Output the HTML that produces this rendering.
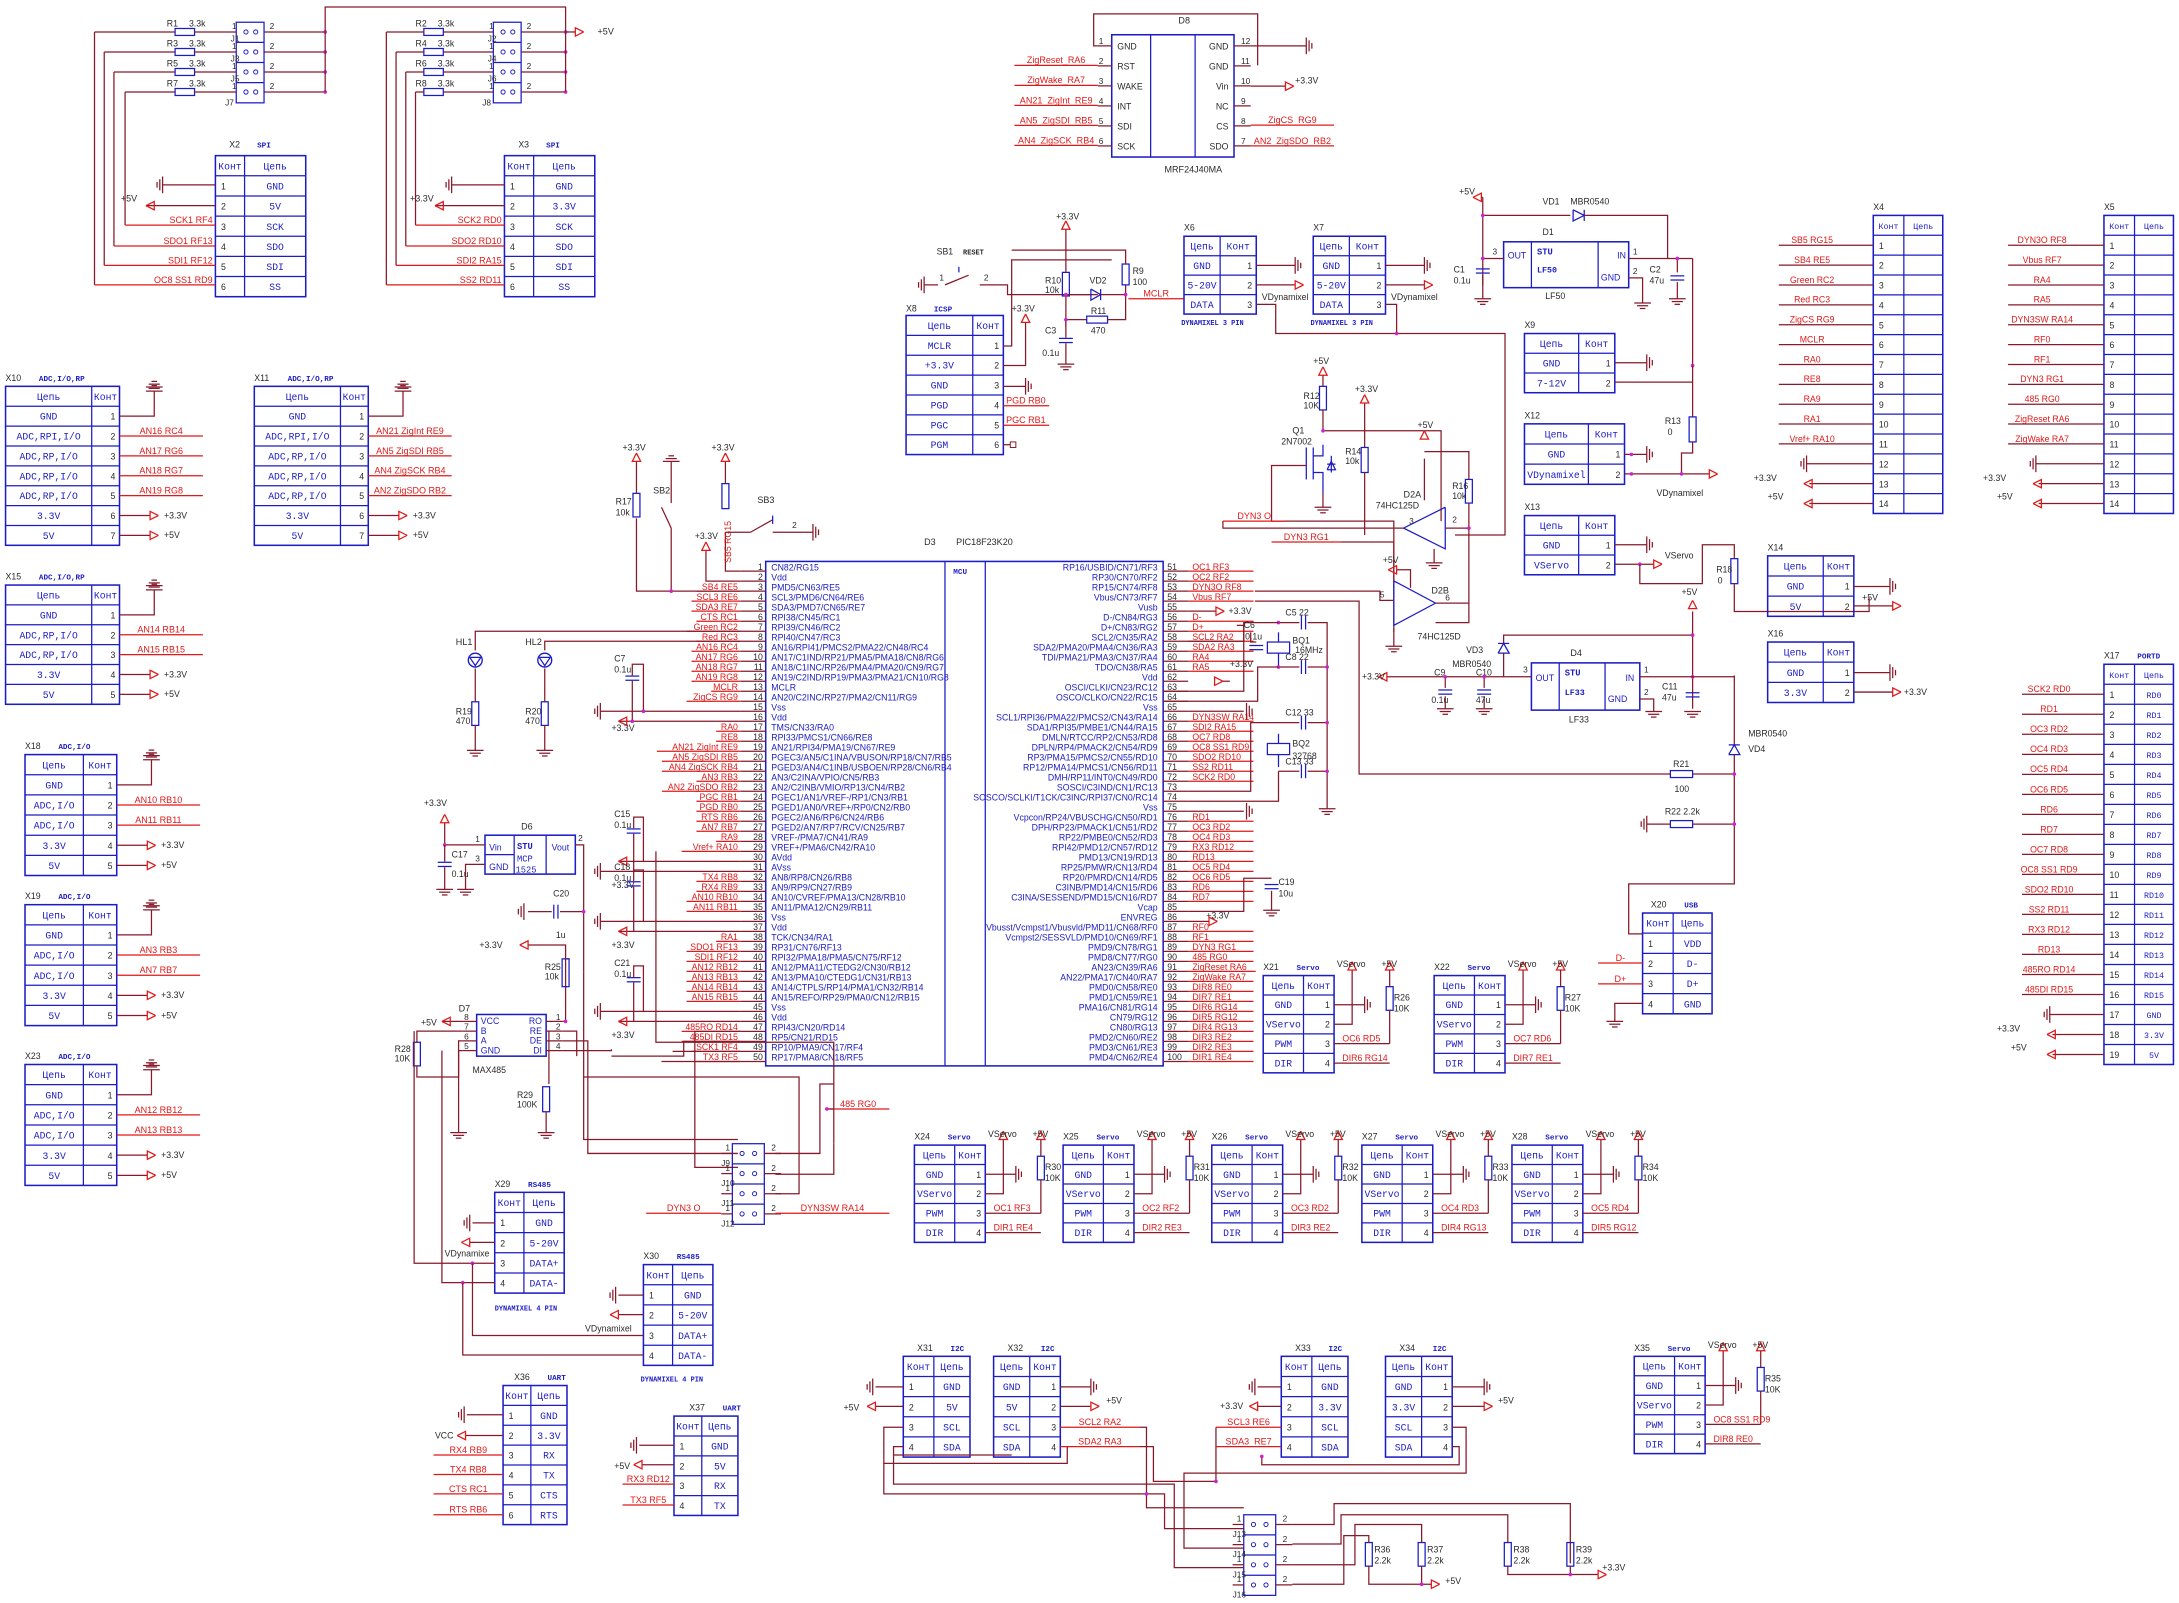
<!DOCTYPE html>
<html><head><meta charset="utf-8">
<style>html,body{margin:0;padding:0;background:#fff;}svg{display:block;}</style>
</head><body>
<div id="w"></div>
<script>
const B='#1c1cc4',W='#861a2a',R='#e01818',K='#2a2a2a',P='#d020d0';
let s='';
function t(x,y,str,c,fs,a,ff,fw,tr){s+='<text x="'+x+'" y="'+y+'" fill="'+(c||K)+'" font-size="'+(fs||6.5)+'" text-anchor="'+(a||'start')+'" font-family="'+(ff||'Liberation Sans, sans-serif')+'"'+(fw?' font-weight="bold"':'')+(tr?' transform="'+tr+'"':'')+'>'+str+'</text>';}
function l(c,...p){s+='<polyline points="'+p.join(' ')+'" fill="none" stroke="'+c+'" stroke-width="0.9"/>';}
function w(...p){l(W,...p);}
function rc(x,y,ww,h,c,sw){s+='<rect x="'+x+'" y="'+y+'" width="'+ww+'" height="'+h+'" fill="none" stroke="'+(c||B)+'" stroke-width="'+(sw||1.1)+'"/>';}
function dot(x,y){s+='<circle cx="'+x+'" cy="'+y+'" r="1.3" fill="'+P+'"/>';}
function gh(x,y,d){d=d||1;l(W,x,y-6,x,y+6);l(W,x+2*d,y-4,x+2*d,y+4);l(W,x+4*d,y-2,x+4*d,y+2);}
function gd(x,y){l(W,x-6,y,x+6,y);l(W,x-4,y+2,x+4,y+2);l(W,x-2,y+4,x+2,y+4);}
function gu(x,y){l(W,x-6,y,x+6,y);l(W,x-4,y-2,x+4,y-2);l(W,x-2,y-4,x+2,y-4);}
function ar(x,y,d){let p;if(d=='l')p=[x,y,x+6,y-3,x+6,y+3,x,y];else if(d=='r')p=[x,y,x-6,y-3,x-6,y+3,x,y];else p=[x,y,x-3,y+6,x+3,y+6,x,y];l(R,...p);}
function nl(x1,x2,y,str,a){l(R,x1,y,x2,y);let tx=a=='e'?x2-2:(a=='s'?x1+2:(x1+x2)/2);t(tx,y-1.5,str,R,6.5,a=='e'?'end':(a=='s'?'start':'middle'));}
function resv(x,y1,y2){rc(x-2.5,y1,5,y2-y1,B,0.9);}
function resh(x1,x2,y){rc(x1,y-2.5,x2-x1,5,B,0.9);}
function capv(x,y){l(B,x-5,y-1.5,x+5,y-1.5);l(B,x-5,y+1.5,x+5,y+1.5);}
function caph(x,y){l(B,x-1.5,y-5,x-1.5,y+5);l(B,x+1.5,y-5,x+1.5,y+5);}
function tbl(x,y,ws,rh,rows,big){let tw=ws[0]+ws[1],n=rows.length;rc(x,y,tw,rh*n);
 for(let i=1;i<n;i++)l(B,x,y+rh*i,x+tw,y+rh*i);l(B,x+ws[0],y,x+ws[0],y+rh*n);
 rows.forEach((r,i)=>{for(let j=0;j<2;j++){let v=r[j];if(v==='')continue;let cx=j?x+ws[0]+ws[1]/2:x+ws[0]/2;let yy=y+rh*i+rh*0.68;
  if(/^\d+$/.test(v)&&i>0){let isLeft=j==0;t(isLeft?x+4:x+ws[0]+ws[1]-3,yy,v,K,6.3,isLeft?'start':'end');}
  else t(cx,yy,v,B,big||7,'middle','Liberation Mono, monospace',false);}});}
function title(x,y,a,b){t(x,y,a,K,6.3);if(b)t(x+(a.length*4+12),y,b,B,5.5,'start','Liberation Mono, monospace',true);}

function jblock(bx,rx,vx,busx,names,rn){for(let i=0;i<4;i++){let y=23+i*14.4;resh(rx,rx+14,y);t(rx-6,y-4,rn[i],K,6.3);t(rx+10,y-4,'3.3k',K,6.3);
 w(vx[i],y,rx,y);w(rx+14,y,bx,y);t(bx-3,y-2,'1',K,6);t(bx+24,y-2,'2',K,6);
 s+='<circle cx="'+(bx+7)+'" cy="'+y+'" r="1.5" fill="none" stroke="'+B+'" stroke-width="0.7"/><circle cx="'+(bx+14)+'" cy="'+y+'" r="1.5" fill="none" stroke="'+B+'" stroke-width="0.7"/>';
 w(bx+20,y,busx,y);dot(busx,y);}
 rc(bx,16,20,58,B,0.9);for(let i=1;i<4;i++)l(B,bx,16+i*14.5,bx+20,16+i*14.5);t(bx-8,76,names[3],K,6);for(let i=0;i<3;i++)t(bx-4,30+i*14.4,names[i],K,6);}
jblock(170,126,[68,75,82,90],234,['J1','J3','J5','J7'],['R1','R3','R5','R7']);
jblock(355,305,[278,285,292,299],407,['J2','J4','J6','J8'],['R2','R4','R6','R8']);
w(234,23,234,5,407,5,407,66);w(234,23,234,66);ar(420,23,'r');w(407,23,414,23);t(430,25,'+5V',K,6.5);
function spi(x,nm,v,labs,vx){title(x+10,106,nm,'SPI');tbl(x,112,[21,44],14.5,[['Конт','Цепь'],['1','GND'],['2',v],['3','SCK'],['4','SDO'],['5','SDI'],['6','SS']]);
 w(x,133,x-38,133);gh(x-38,133,-1);w(x,148,x-50,148);ar(x-50,148,'l');t(x-68,145,v=='5V'?'+5V':'+3.3V',K,6.5);
 let ys=[162,177,191,205];for(let i=0;i<4;i++){w(vx[3-i],ys[i],vx[3-i],23+(3-i)*14.4);nl(vx[3-i],x,ys[i],labs[i],'e');}}
spi(155,'X2','5V',['SCK1 RF4','SDO1 RF13','SDI1 RF12','OC8 SS1 RD9'],[68,75,82,90]);
spi(363,'X3','3.3V',['SCK2 RD0','SDO2 RD10','SDI2 RA15','SS2 RD11'],[278,285,292,299]);

rc(800,25,88,88);l(B,828,25,828,113);l(B,860,25,860,113);t(848,17,'D8',K,6.5);t(838,124,'MRF24J40MA',K,6.5);
w(790,33,787,33,787,10,905,10,905,47);
['GND','RST','WAKE','INT','SDI','SCK'].forEach((n,i)=>{let y=33+i*14.4;t(804,y+2.5,n,K,6.3);w(790,y,800,y);t(794,y-1.5,''+(i+1),K,6,'end');});
['GND','GND','Vin','NC','CS','SDO'].forEach((n,i)=>{let y=33+i*14.4;t(884,y+2.5,n,K,6.3,'end');w(888,y,900,y);t(893,y-1.5,''+(12-i),K,6);});
['ZigReset_RA6','ZigWake_RA7','AN21_ZigInt_RE9','AN5_ZigSDI_RB5','AN4_ZigSCK_RB4'].forEach((n,i)=>{nl(730,790,47+i*14.4,n,'m');});
w(900,33,940,33);gh(940,33);w(900,62,925,62);ar(931,62,'r');t(932,60,'+3.3V',K,6.3);
nl(900,960,90,'ZigCS_RG9');nl(900,960,105,'AN2_ZigSDO_RB2');

function adc(x,y,rows,labs,nm,sub,w0,w1,rh){rh=rh||14.3;title(x,y-4,nm,sub);tbl(x,y,[w0,w1],rh,rows);let xe=x+w0+w1;
 let gy=y+rh*1.5;w(xe,gy,xe+25,gy,xe+25,gy-18);gu(xe+25,gy-18);gu(xe+25,gy-21);
 labs.forEach((lb,i)=>{let yy=y+rh*(i+2.5);nl(xe,xe+60,yy,lb,'m');});
 let n=rows.length;let y3=y+rh*(n-1.5),y5=y+rh*(n-0.5);w(xe,y3,xe+22,y3);ar(xe+28,y3,'r');t(xe+32,y3+2,'+3.3V',K,6.3);w(xe,y5,xe+22,y5);ar(xe+28,y5,'r');t(xe+32,y5+2,'+5V',K,6.3);}
const rp=[['Цепь','Конт'],['GND','1'],['ADC,RPI,I/O','2'],['ADC,RP,I/O','3'],['ADC,RP,I/O','4'],['ADC,RP,I/O','5'],['3.3V','6'],['5V','7']];
adc(4,278,rp,['AN16 RC4','AN17 RG6','AN18 RG7','AN19 RG8'],'X10','ADC,I/O,RP',62,20);
adc(183,278,rp,['AN21 ZigInt RE9','AN5 ZigSDI RB5','AN4 ZigSCK RB4','AN2 ZigSDO RB2'],'X11','ADC,I/O,RP',62,20);
adc(4,421,[['Цепь','Конт'],['GND','1'],['ADC,RP,I/O','2'],['ADC,RP,I/O','3'],['3.3V','4'],['5V','5']],['AN14 RB14','AN15 RB15'],'X15','ADC,I/O,RP',62,20);
const ai=[['Цепь','Конт'],['GND','1'],['ADC,I/O','2'],['ADC,I/O','3'],['3.3V','4'],['5V','5']];
adc(18,543,ai,['AN10 RB10','AN11 RB11'],'X18','ADC,I/O',42,24,14.5);
adc(18,651,ai,['AN3 RB3','AN7 RB7'],'X19','ADC,I/O',42,24,14.5);
adc(18,766,ai,['AN12 RB12','AN13 RB13'],'X23','ADC,I/O',42,24,14.5);

const LP=['CN82/RG15','Vdd','PMD5/CN63/RE5','SCL3/PMD6/CN64/RE6','SDA3/PMD7/CN65/RE7','RPI38/CN45/RC1','RPI39/CN46/RC2','RPI40/CN47/RC3','AN16/RPI41/PMCS2/PMA22/CN48/RC4','AN17/C1IND/RP21/PMA5/PMA18/CN8/RG6','AN18/C1INC/RP26/PMA4/PMA20/CN9/RG7','AN19/C2IND/RP19/PMA3/PMA21/CN10/RG8','MCLR','AN20/C2INC/RP27/PMA2/CN11/RG9','Vss','Vdd','TMS/CN33/RA0','RPI33/PMCS1/CN66/RE8','AN21/RPI34/PMA19/CN67/RE9','PGEC3/AN5/C1INA/VBUSON/RP18/CN7/RB5','PGED3/AN4/C1INB/USBOEN/RP28/CN6/RB4','AN3/C2INA/VPIO/CN5/RB3','AN2/C2INB/VMIO/RP13/CN4/RB2','PGEC1/AN1/VREF-/RP1/CN3/RB1','PGED1/AN0/VREF+/RP0/CN2/RB0','PGEC2/AN6/RP6/CN24/RB6','PGED2/AN7/RP7/RCV/CN25/RB7','VREF-/PMA7/CN41/RA9','VREF+/PMA6/CN42/RA10','AVdd','AVss','AN8/RP8/CN26/RB8','AN9/RP9/CN27/RB9','AN10/CVREF/PMA13/CN28/RB10','AN11/PMA12/CN29/RB11','Vss','Vdd','TCK/CN34/RA1','RP31/CN76/RF13','RPI32/PMA18/PMA5/CN75/RF12','AN12/PMA11/CTEDG2/CN30/RB12','AN13/PMA10/CTEDG1/CN31/RB13','AN14/CTPLS/RP14/PMA1/CN32/RB14','AN15/REFO/RP29/PMA0/CN12/RB15','Vss','Vdd','RPI43/CN20/RD14','RP5/CN21/RD15','RP10/PMA9/CN17/RF4','RP17/PMA8/CN18/RF5'];
const LL={3:'SB4 RE5',4:'SCL3 RE6',5:'SDA3 RE7',6:'CTS RC1',7:'Green RC2',8:'Red RC3',9:'AN16 RC4',10:'AN17 RG6',11:'AN18 RG7',12:'AN19 RG8',13:'MCLR',14:'ZigCS RG9',17:'RA0',18:'RE8',19:'AN21 ZigInt RE9',20:'AN5 ZigSDI RB5',21:'AN4 ZigSCK RB4',22:'AN3 RB3',23:'AN2 ZigSDO RB2',24:'PGC RB1',25:'PGD RB0',26:'RTS RB6',27:'AN7 RB7',28:'RA9',29:'Vref+ RA10',32:'TX4 RB8',33:'RX4 RB9',34:'AN10 RB10',35:'AN11 RB11',38:'RA1',39:'SDO1 RF13',40:'SDI1 RF12',41:'AN12 RB12',42:'AN13 RB13',43:'AN14 RB14',44:'AN15 RB15',47:'485RO RD14',48:'485DI RD15',49:'SCK1 RF4',50:'TX3 RF5'};
const RP=['RP16/USBID/CN71/RF3','RP30/CN70/RF2','RP15/CN74/RF8','Vbus/CN73/RF7','Vusb','D-/CN84/RG3','D+/CN83/RG2','SCL2/CN35/RA2','SDA2/PMA20/PMA4/CN36/RA3','TDI/PMA21/PMA3/CN37/RA4','TDO/CN38/RA5','Vdd','OSCI/CLKI/CN23/RC12','OSCO/CLKO/CN22/RC15','Vss','SCL1/RPI36/PMA22/PMCS2/CN43/RA14','SDA1/RPI35/PMBE1/CN44/RA15','DMLN/RTCC/RP2/CN53/RD8','DPLN/RP4/PMACK2/CN54/RD9','RP3/PMA15/PMCS2/CN55/RD10','RP12/PMA14/PMCS1/CN56/RD11','DMH/RP11/INT0/CN49/RD0','SOSCI/C3IND/CN1/RC13','SOSCO/SCLKI/T1CK/C3INC/RPI37/CN0/RC14','Vss','Vcpcon/RP24/VBUSCHG/CN50/RD1','DPH/RP23/PMACK1/CN51/RD2','RP22/PMBE0/CN52/RD3','RPI42/PMD12/CN57/RD12','PMD13/CN19/RD13','RP25/PMWR/CN13/RD4','RP20/PMRD/CN14/RD5','C3INB/PMD14/CN15/RD6','C3INA/SESSEND/PMD15/CN16/RD7','Vcap','ENVREG','Vbusst/Vcmpst1/Vbusvld/PMD11/CN68/RF0','Vcmpst2/SESSVLD/PMD10/CN69/RF1','PMD9/CN78/RG1','PMD8/CN77/RG0','AN23/CN39/RA6','AN22/PMA17/CN40/RA7','PMD0/CN58/RE0','PMD1/CN59/RE1','PMA16/CN81/RG14','CN79/RG12','CN80/RG13','PMD2/CN60/RE2','PMD3/CN61/RE3','PMD4/CN62/RE4'];
const RL={51:'OC1 RF3',52:'OC2 RF2',53:'DYN3O RF8',54:'Vbus RF7',56:'D-',57:'D+',58:'SCL2 RA2',59:'SDA2 RA3',60:'RA4',61:'RA5',66:'DYN3SW RA14',67:'SDI2 RA15',68:'OC7 RD8',69:'OC8 SS1 RD9',70:'SDO2 RD10',71:'SS2 RD11',72:'SCK2 RD0',76:'RD1',77:'OC3 RD2',78:'OC4 RD3',79:'RX3 RD12',80:'RD13',81:'OC5 RD4',82:'OC6 RD5',83:'RD6',84:'RD7',87:'RF0',88:'RF1',89:'DYN3 RG1',90:'485 RG0',91:'ZigReset RA6',92:'ZigWake RA7',93:'DIR8 RE0',94:'DIR7 RE1',95:'DIR6 RG14',96:'DIR5 RG12',97:'DIR4 RG13',98:'DIR3 RE2',99:'DIR2 RE3',100:'DIR1 RE4'};
rc(551,404,286,363);l(B,680,404,680,767);l(B,709,404,709,767);
t(665,392,'D3',K,6.5);t(688,392,'PIC18F23K20',K,6.5);t(686,413,'MCU',B,5.5,'start','Liberation Mono, monospace',true);
function py(i){return 411+(i-1)*7.2;}
for(let i=1;i<=50;i++){let y=py(i);t(555,y-0.6,LP[i-1],B,6.3);w(533,y,551,y);t(549,y-1,''+i,K,6.3,'end');
 if(LL[i]){let lw=LL[i].length*3.55+4;l(R,530-lw,y,533,y);t(531,y-1,LL[i],R,6.3,'end');}}
for(let i=51;i<=100;i++){let y=py(i-50);t(833,y-0.6,RP[i-51],B,6.3,'end');w(837,y,855,y);t(840,y-1,''+i,K,6.3);
 if(RL[i]){let lw=RL[i].length*3.55+4;l(R,855,y,Math.max(902,857+lw),y);t(858,y-1,RL[i],R,6.3);}}
w(533,py(1),522,py(1),522,383);resv(522,348,366);w(522,348,522,332);ar(522,326,'u');t(512,324,'+3.3V',K,6.3);
t(526,405,'SB5  RG15',R,6.3,'start','Liberation Sans, sans-serif',false,'rotate(-90 526 405)');
w(522,383,540,383);l(W,540,383,556,374);t(545,362,'SB3',K,6.5);l(B,556,371,556,377);w(556,383,585,383);gh(585,383);t(570,380,'2',K,6);
w(533,py(2),508,py(2),508,396);ar(508,390,'u');t(500,388,'+3.3V',K,6.3);
w(533,py(3),458,py(3),458,373);resv(458,355,372);w(458,355,458,332);ar(458,326,'u');t(448,324,'+3.3V',K,6.3);t(443,363,'R17',K,6.3);t(443,371,'10k',K,6.3);
w(483,py(3),483,380);l(W,483,380,476,365);w(483,362,483,332);gu(483,332);t(470,355,'SB2',K,6.5);dot(483,py(3));
w(533,py(7),342,py(7),342,468);s+='<circle cx="342" cy="475" r="5" fill="none" stroke="'+B+'"/>';l(B,338,473,346,473,342,479,338,473);w(342,481,342,505);resv(342,505,522);w(342,522,342,540);gd(342,540);t(328,464,'HL1',K,6.5);t(328,514,'R19',K,6.3);t(328,521,'470',K,6.3);
w(533,py(8),392,py(8),392,468);s+='<circle cx="392" cy="475" r="5" fill="none" stroke="'+B+'"/>';l(B,388,473,396,473,392,479,388,473);w(392,481,392,505);resv(392,505,522);w(392,522,392,540);gd(392,540);t(378,464,'HL2',K,6.5);t(378,514,'R20',K,6.3);t(378,521,'470',K,6.3);
w(533,py(15),432,py(15));gh(432,py(15),-1);w(533,py(16),445,py(16));ar(445,py(16),'l');t(440,526,'+3.3V',K,6.3);
w(455,py(16),455,490);capv(455,488);w(455,486,455,478,463,478,463,py(15));dot(463,py(15));dot(455,py(16));t(442,476,'C7',K,6.3);t(442,484,'0.1u',K,6.3);
[[30,31,'C15',590],[37,36,'C18',628],[46,45,'C21',697]].forEach(c=>{let yv=py(c[0]),yg=py(c[1]);w(533,yv,445,yv);ar(445,yv,'l');w(533,yg,432,yg);gh(432,yg,-1);
 w(456,Math.max(yv,yg),456,c[3]+10);capv(456,c[3]+8);w(456,c[3]+6,456,c[3]-2,463,c[3]-2,463,Math.min(yv,yg));t(442,c[3]-2,c[2],K,6.3);t(442,c[3]+6,'0.1u',K,6.3);t(440,Math.max(yv,yg)+12,'+3.3V',K,6.3);});
rc(349,601,65,28);l(B,370,601,370,629);l(B,393,601,393,629);l(B,349,615,370,615);t(352,612,'Vin',B,6.3);t(352,626,'GND',B,6.3);t(372,611,'STU',B,6.3,'start','Liberation Mono, monospace',true);t(372,620,'MCP',B,6.3,'start','Liberation Mono, monospace');t(371,628,'1525',B,6.3,'start','Liberation Mono, monospace');t(397,612,'Vout',B,6.3);t(375,597,'D6',K,6.5);
w(349,608,320,608);w(320,608,320,592);ar(320,586,'u');t(305,580,'+3.3V',K,6.3);dot(320,608);w(320,608,320,620);capv(320,622);w(320,624,320,640);gd(320,640);t(325,617,'C17',K,6.3);t(325,631,'0.1u',K,6.3);
w(349,622,335,622,335,640);gd(335,640);t(342,606,'1',K,6);t(342,620,'3',K,6);
w(414,608,420,608,420,700);t(416,605,'2',K,6);
w(420,656,403,656);caph(400,656);w(397,656,380,656);gh(377,656,-1);t(398,645,'C20',K,6.3);t(400,675,'1u',K,6.3);dot(420,656);
w(420,700,420,820,531,820);
rc(343,730,50,30);t(330,728,'D7',K,6.5);t(340,772,'MAX485',K,6.3);
['VCC','B','A','GND'].forEach((n,i)=>{t(346,737+i*7,n,B,6.3);});['RO','RE','DE','DI'].forEach((n,i)=>{t(390,737+i*7,n,B,6.3,'end');});
[8,7,6,5].forEach((n,i)=>{let y=735+i*7;w(333,y,343,y);t(334,y-1,''+n,K,6);});[1,2,3,4].forEach((n,i)=>{let y=735+i*7;w(393,y,405,y);t(400,y-1,''+n,K,6);});
w(333,735,318,735);ar(318,735,'l');t(303,738,'+5V',K,6.3);
w(333,742,300,742,300,750);resv(300,750,767);w(300,767,300,775,330,775,330,749,333,749);t(284,757,'R28',K,6.3);t(284,764,'10K',K,6.3);
w(333,756,330,756,330,815);gd(330,815);
w(405,735,407,735,407,690,410,690);resv(407,690,710);w(407,690,407,680,380,680);ar(374,680,'l');t(345,682,'+3.3V',K,6.3);t(392,698,'R25',K,6.3);t(392,705,'10k',K,6.3);dot(407,735);
w(405,742,415,742,415,760);w(405,749,423,749,423,830,531,830);w(405,756,440,756,440,755);
w(395,742,395,780);resv(393,782,800);w(393,800,393,815);gd(393,815);t(372,790,'R29',K,6.3);t(372,797,'100K',K,6.3);
w(533,py(47),500,py(47),500,840,531,840);w(533,py(48),492,py(48),492,760,440,760);w(533,py(49),484,py(49));w(533,py(50),476,py(50));
w(472,py(29),472,750,600,750,600,823);nl(595,640,798,'485 RG0','m');w(600,798,595,798);dot(595,798);
function jm(x,y,names,lbl){rc(x,y,23,58,B,0.9);for(let i=1;i<4;i++)l(B,x,y+i*14.5,x+23,y+i*14.5);
 for(let i=0;i<4;i++){let yy=y+7+i*14.5;s+='<circle cx="'+(x+7)+'" cy="'+yy+'" r="1.5" fill="none" stroke="'+B+'" stroke-width="0.7"/><circle cx="'+(x+16)+'" cy="'+yy+'" r="1.5" fill="none" stroke="'+B+'" stroke-width="0.7"/>';w(x-8,yy,x,yy);w(x+23,yy,x+35,yy);t(x-5,yy-2,'1',K,6);t(x+28,yy-2,'2',K,6);t(x-8,yy+9,names[i],K,6);}}
jm(527,823,['J9','J10','J11','J12']);
w(558,830,590,830,590,780,600,780);w(558,845,600,845,600,823);w(558,859,575,859,575,775,420,775);
nl(465,519,873,'DYN3 O','m');nl(558,640,873,'DYN3SW RA14','m');
title(356,854,'X29','RS485');tbl(356,858,[21,29],14.5,[['Конт','Цепь'],['1','GND'],['2','5-20V'],['3','DATA+'],['4','DATA-']]);t(356,943,'DYNAMIXEL 4 PIN',B,5,'start','Liberation Mono, monospace',true);
w(356,880,340,880);gh(338,880,-1);w(356,894,338,894);ar(332,894,'l');t(320,904,'VDynamixe',K,6.3);
w(356,909,298,909,298,742);w(356,923,318,923,318,756);dot(340,909);dot(333,923);
title(463,906,'X30','RS485');tbl(463,910,[21,29],14.5,[['Конт','Цепь'],['1','GND'],['2','5-20V'],['3','DATA+'],['4','DATA-']]);t(461,994,'DYNAMIXEL 4 PIN',B,5,'start','Liberation Mono, monospace',true);
w(463,932,445,932);gh(443,932,-1);w(463,946,445,946);ar(439,946,'l');t(421,958,'VDynamixel',K,6.3);w(463,961,340,961,340,909);w(463,975,333,975,333,923);
title(370,993,'X36','UART');tbl(362,997,[20,26],14.3,[['Конт','Цепь'],['1','GND'],['2','3.3V'],['3','RX'],['4','TX'],['5','CTS'],['6','RTS']]);
w(362,1018,336,1018);gh(334,1018,-1);w(362,1033,335,1033);ar(329,1033,'l');t(313,1035,'VCC',K,6.3);
nl(312,362,1047,'RX4 RB9','m');nl(312,362,1061,'TX4 RB8','m');nl(312,362,1075,'CTS RC1','m');nl(312,362,1090,'RTS RB6','m');
title(496,1015,'X37','UART');tbl(485,1019,[20,26],14.3,[['Конт','Цепь'],['1','GND'],['2','5V'],['3','RX'],['4','TX']]);
w(485,1040,460,1040);gh(458,1040,-1);w(485,1054,462,1054);ar(456,1054,'l');t(442,1057,'+5V',K,6.3);nl(448,485,1068,'RX3 RD12','m');nl(448,485,1083,'TX3 RF5','m');

title(652,224,'X8','ICSP');tbl(652,227,[48,22],14.3,[['Цепь','Конт'],['MCLR','1'],['+3.3V','2'],['GND','3'],['PGD','4'],['PGC','5'],['PGM','6']]);
w(722,249,728,249,728,187,800,187);w(722,263,738,263,738,232);ar(738,226,'u');t(728,224,'+3.3V',K,6.3);w(722,278,738,278);gh(738,278);
nl(722,755,292,'PGD RB0','s');nl(722,755,306,'PGC RB1','s');w(722,320,727,320);rc(727,318,4,4,W,0.7);
w(665,205,675,205);gh(665,205,-1);l(W,680,205,697,198);l(B,690,192,690,196);w(705,205,725,205,725,212,790,212);t(676,202,'1',K,6);t(708,202,'2',K,6);t(674,183,'SB1',K,6.3);t(693,183,'RESET',K,5,'start','Liberation Mono, monospace',true);
w(767,165,767,196);resv(767,196,213);ar(767,159,'u');t(760,158,'+3.3V',K,6.3);w(767,213,767,230);t(752,204,'R10',K,6.3);t(752,211,'10k',K,6.3);
w(767,230,767,235);capv(767,245);w(767,243,767,230);w(767,247,767,262);gd(767,262);t(752,240,'C3',K,6.3);t(750,256,'0.1u',K,6.3);
w(767,212,785,212);l(B,785,208,785,216,792,212,785,208);l(B,792,208,792,216);w(792,212,810,212);w(767,230,782,230);resh(782,797,230);w(797,230,810,230,810,205);resv(810,190,205);w(810,190,810,180,728,180);
t(784,204,'VD2',K,6.3);t(785,226,'R11',K,6.3);t(785,240,'470',K,6.3);t(815,197,'R9',K,6.3);t(815,205,'100',K,6.3);nl(812,852,215,'MCLR','m');dot(767,212);dot(767,230);dot(810,212);

function dyn(x,nm){title(x,166,nm);tbl(x,170,[26,26],14,[['Цепь','Конт'],['GND','1'],['5-20V','2'],['DATA','3']]);t(x-2,234,'DYNAMIXEL 3 PIN',B,5,'start','Liberation Mono, monospace',true);
 w(x+52,191,x+80,191);gh(x+80,191);w(x+52,205,x+80,205);ar(x+86,205,'r');t(x+56,216,'VDynamixel',K,6.3);}
dyn(852,'X6');dyn(945,'X7');
w(904,219,918,219,918,240,1005,240,1005,219,997,219);w(1005,240,1083,240,1083,385,1047,385);dot(1005,240);

w(1067,142,1067,205);ar(1060,142,'l');w(1066,142,1067,142);t(1050,140,'+5V',K,6.3);
w(1067,155,1130,155);l(B,1132,151,1132,159,1140,155,1132,151);l(B,1140,151,1140,159);w(1140,155,1200,155,1200,186);t(1110,147,'VD1',K,6.3);t(1130,147,'MBR0540',K,6.3);dot(1067,155);
rc(1082,174,90,33);l(B,1102,174,1102,207);l(B,1150,174,1150,207);t(1085,186,'OUT',B,6.3);t(1106,183,'STU',B,6.3,'start','Liberation Mono, monospace',true);t(1106,196,'LF50',B,6,'start','Liberation Mono, monospace',true);t(1170,186,'IN',B,6.3,'end');t(1152,202,'GND',B,6.3);t(1112,215,'LF50',K,6.3);t(1110,169,'D1',K,6.3);
w(1082,186,1067,186);t(1074,183,'3',K,6);dot(1067,186);capv(1067,195);w(1067,198,1067,215);gd(1067,215);t(1046,196,'C1',K,6.3);t(1046,204,'0.1u',K,6.3);
w(1172,186,1218,186);t(1175,183,'1',K,6);w(1172,200,1182,200,1182,218);gd(1182,218);t(1175,197,'2',K,6);
w(1207,186,1207,196);capv(1207,200);w(1207,203,1207,215);gd(1207,215);t(1187,196,'C2',K,6.3);t(1187,204,'47u',K,6.3);dot(1207,186);
w(1218,186,1218,263);dot(1218,263);w(1218,263,1218,300);resv(1218,300,318);w(1218,318,1218,326,1210,326,1210,340);t(1198,305,'R13',K,6.3);t(1200,313,'0',K,6.3);
title(1097,236,'X9');tbl(1097,240,[39,26],14.2,[['Цепь','Конт'],['GND','1'],['7-12V','2']]);w(1162,261,1185,261);gh(1185,261);w(1162,275,1218,275);
title(1097,301,'X12');tbl(1097,305,[46,26],14.5,[['Цепь','Конт'],['GND','1'],['VDynamixel','2']]);w(1169,327,1185,327);gh(1185,327);dot(1174,327);w(1169,341,1230,341);ar(1236,341,'r');dot(1174,341);dot(1210,341);t(1192,357,'VDynamixel',K,6.3);
title(1097,367,'X13');tbl(1097,371,[39,26],14.2,[['Цепь','Конт'],['GND','1'],['VServo','2']]);w(1162,392,1185,392);gh(1185,392);w(1162,406,1190,406);ar(1196,406,'r');dot(1180,406);t(1198,402,'VServo',K,6.3);
w(1180,406,1180,420,1225,420,1225,392,1248,392,1248,402);resv(1248,402,420);w(1248,420,1248,440,1345,440,1345,430);t(1235,412,'R18',K,6.3);t(1236,420,'0',K,6.3);
title(1272,396,'X14');tbl(1272,400,[40,22],14.5,[['Цепь','Конт'],['GND','1'],['5V','2']]);w(1334,422,1360,422);gh(1360,422);w(1334,436,1362,436);ar(1368,436,'r');t(1340,432,'+5V',K,6.3);
title(1272,458,'X16');tbl(1272,462,[40,22],14.5,[['Цепь','Конт'],['GND','1'],['3.3V','2']]);w(1334,484,1360,484);gh(1360,484);w(1334,498,1362,498);ar(1368,498,'r');t(1370,500,'+3.3V',K,6.3);

w(952,270,952,278);ar(952,264,'u');t(945,262,'+5V',K,6.3);resv(952,278,295);t(938,287,'R12',K,6.3);t(938,294,'10K',K,6.3);w(952,295,952,310,1037,310,1037,375);dot(952,310);
w(982,290,982,322);ar(982,284,'u');t(975,282,'+3.3V',K,6.3);resv(982,322,340);w(982,340,982,385);t(968,327,'R14',K,6.3);t(968,334,'10k',K,6.3);
l(B,940,322,940,345);l(B,945,322,945,345);l(B,945,328,952,328,952,320);l(B,945,340,952,340,952,355);w(952,355,952,365);gd(952,365);l(B,958,328,958,340);l(B,955,334,961,334);l(B,955,338,958,332,961,338,955,338);
w(940,335,915,335,915,375,1003,375,1003,455);t(930,312,'Q1',K,6.5);t(922,320,'2N7002',K,6.3);
l(B,1040,365,1040,395,1010,380,1040,365);w(1010,380,880,380,880,375);nl(880,925,375,'DYN3 O','m');w(1040,380,1057,380);
w(1025,330,1025,360);ar(1025,310,'u');t(1020,308,'+5V',K,6.3);w(1025,325,1057,325,1057,345);resv(1057,345,362);w(1057,362,1057,448,1033,448);dot(1057,380);t(1045,352,'R16',K,6.3);t(1045,359,'10k',K,6.3);
t(1010,358,'D2A',K,6.5);t(990,366,'74HC125D',K,6.3);t(1014,377,'3',K,6);t(1045,376,'2',K,6);w(1032,395,1032,405);gd(1032,405);
nl(915,965,390,'DYN3 RG1','m');w(965,390,1003,390,1003,418);
l(B,1003,418,1003,450,1033,434,1003,418);w(1003,432,993,432,993,py(3),903,py(3));w(1033,434,1057,434);
t(1030,427,'D2B',K,6.5);t(1020,460,'74HC125D',K,6.3);t(993,430,'5',K,6);t(1040,432,'6',K,6);w(1015,423,1015,410,1005,410);ar(999,410,'l');t(995,405,'+5V',K,6.3);w(1003,452,1003,465);gd(1003,465);
w(903,py(4),978,py(4),978,557,1202,557);resh(1202,1218,557);w(1218,557,1248,557);t(1204,552,'R21',K,6.3);t(1205,570,'100',K,6.3);
w(1248,486,1248,537);l(B,1244,543,1252,543,1248,536,1244,543);l(B,1244,536,1252,536);w(1248,543,1248,636,1172,636,1172,672,1182,672);t(1258,530,'MBR0540',K,6.3);t(1258,541,'VD4',K,6.3);dot(1248,557);
w(1248,593,1218,593);resh(1202,1218,593);w(1202,593,1185,593);gh(1185,593,-1);t(1198,586,'R22 2.2k',K,6.3);dot(1248,593);
rc(1102,477,78,34);l(B,1122,477,1122,511);l(B,1155,477,1155,511);t(1105,490,'OUT',B,6.3);t(1126,486,'STU',B,6.3,'start','Liberation Mono, monospace',true);t(1126,500,'LF33',B,6,'start','Liberation Mono, monospace',true);t(1176,490,'IN',B,6.3,'end');t(1157,505,'GND',B,6.3);t(1129,520,'LF33',K,6.3);t(1130,472,'D4',K,6.5);
w(1102,487,998,487);ar(992,487,'l');t(980,489,'+3.3V',K,6.3);t(1096,484,'3',K,6);
w(1040,487,1040,495);capv(1040,498);w(1040,501,1040,510);gd(1040,510);t(1032,486,'C9',K,6.3);t(1030,506,'0.1u',K,6.3);dot(1040,487);
w(1068,487,1068,495);capv(1068,498);w(1068,501,1068,510);gd(1068,510);t(1062,486,'C10',K,6.3);t(1062,506,'47u',K,6.3);dot(1068,487);
w(1082,487,1082,470);l(B,1078,470,1086,470,1082,463,1078,470);l(B,1078,463,1086,463);w(1082,463,1082,457,1218,457);t(1055,470,'VD3',K,6.3);t(1045,480,'MBR0540',K,6.3);
w(1218,440,1218,510);ar(1218,432,'u');t(1210,428,'+5V',K,6.3);dot(1218,457);dot(1218,487);w(1180,487,1248,487);t(1183,484,'1',K,6);w(1180,503,1190,503,1190,512);gd(1190,512);t(1183,500,'2',K,6);
capv(1218,500);gd(1218,512);t(1196,496,'C11',K,6.3);t(1196,504,'47u',K,6.3);
w(855,py(8),895,py(8),895,450);w(895,450,890,450);
rc(912,462,16,8,B,0.9);l(B,920,455,920,462);l(B,920,470,920,480);t(930,463,'BQ1',K,6.3);t(932,470,'16MHz',K,6.3);
w(920,448,935,448);caph(938,448);w(941,448,955,448,955,582);t(925,443,'C5  22',K,6.3);
w(920,480,935,480);caph(938,480);w(941,480,955,480);t(925,475,'C8  22',K,6.3);dot(920,480);dot(920,448);dot(955,480);
w(837,py(13),895,py(13),895,448,920,448);w(837,py(14),905,py(14),905,480,920,480);
w(855,py(15),895,py(15));gh(897,py(15));
w(900,455,900,462,904,462);capv(904,466);t(895,452,'C6',K,6.3);t(896,460,'0.1u',K,6.3);w(885,py(12),880,py(12));ar(880,py(12),'r');t(885,480,'+3.3V',K,6.3);
rc(912,535,16,8,B,0.9);l(B,920,528,920,535);l(B,920,543,920,552);t(930,537,'BQ2',K,6.3);t(930,546,'32768',K,6.3);
w(920,520,935,520);caph(938,520);w(941,520,955,520);t(925,515,'C12 33',K,6.3);w(920,555,935,555);caph(938,555);w(941,555,955,555);t(925,550,'C13 33',K,6.3);
w(855,py(23),900,py(23),900,520,920,520);w(855,py(24),920,py(24),920,555);dot(955,520);dot(955,555);gd(955,582);
w(855,py(25),895,py(25));gh(897,py(25));
w(855,py(35),895,py(35),895,632,915,632);capv(915,638);w(915,641,915,655);gd(915,655);t(920,637,'C19',K,6.3);t(920,645,'10u',K,6.3);
w(855,py(5),875,py(5));ar(881,py(5),'r');t(884,py(5)+2,'+3.3V',K,6.3);
w(855,py(36),870,py(36));ar(876,py(36),'r');t(868,py(36)-2,'+3.3V',K,6.3);

function big(x,y,n,rh,cells,labs,lx,nm,sub){title(x,y-4,nm,sub);let rows=[['Конт','Цепь']];for(let i=1;i<=n;i++)rows.push([''+i,cells[i-1]||'']);tbl(x,y,[22,28],rh,rows,6);
 for(let i=0;i<n;i++){let yy=y+rh*(i+1.5);let lb=labs[i];if(lb==='G'){w(x,yy,lx+20,yy);gh(lx+20,yy,-1);}else if(lb==='3'){w(x,yy,lx+22,yy);ar(lx+18,yy,'l');t(lx-18,yy-2,'+3.3V',K,6.3);}else if(lb==='5'){w(x,yy,lx+22,yy);ar(lx+18,yy,'l');t(lx-8,yy-3,'+5V',K,6.3);}else{l(W,lx,yy,x,yy);t(lx+(x-lx)/2-10,yy-1.5,lb,R,6.3,'middle');}}}
big(1348,155,14,14.3,[],['SB5 RG15','SB4 RE5','Green RC2','Red RC3','ZigCS RG9','MCLR','RA0','RE8','RA9','RA1','Vref+ RA10','G','3','5'],1280,'X4');
big(1514,155,14,14.3,[],['DYN3O RF8','Vbus RF7','RA4','RA5','DYN3SW RA14','RF0','RF1','DYN3 RG1','485 RG0','ZigReset RA6','ZigWake RA7','G','3','5'],1445,'X5');
big(1514,478,19,14.4,['RD0','RD1','RD2','RD3','RD4','RD5','RD6','RD7','RD8','RD9','RD10','RD11','RD12','RD13','RD14','RD15','GND','3.3V','5V'],['SCK2 RD0','RD1','OC3 RD2','OC4 RD3','OC5 RD4','OC6 RD5','RD6','RD7','OC7 RD8','OC8 SS1 RD9','SDO2 RD10','SS2 RD11','RX3 RD12','RD13','485RO RD14','485DI RD15','G','3','5'],1455,'X17','PORTD');
title(1188,653,'X20','USB');tbl(1182,657,[22,28],14.5,[['Конт','Цепь'],['1','VDD'],['2','D-'],['3','D+'],['4','GND']]);
nl(1150,1182,693,'D-','m');nl(1150,1182,708,'D+','m');w(1182,722,1162,722,1162,735);gd(1162,735);

function servo(x,y,nm,rn,oc,dr){title(x,y-4,nm,'Servo');tbl(x,y,[29,22],14,[['Цепь','Конт'],['GND','1'],['VServo','2'],['PWM','3'],['DIR','4']]);
 let xe=x+51;w(xe,y+21,xe+22,y+21);gh(xe+22,y+21);w(xe,y+35,xe+13,y+35,xe+13,y-4);ar(xe+13,y-10,'u');t(xe+2,y-6,'VServo',K,6.3);
 ar(xe+40,y-10,'u');t(xe+34,y-6,'+5V',K,6.3);w(xe+40,y-4,xe+40,y+8);resv(xe+40,y+8,y+25);w(xe+40,y+25,xe+40,y+49);t(xe+43,y+18,rn,K,6.3);t(xe+43,y+26,'10K',K,6.3);
 l(W,xe,y+49,xe+40,y+49);t(xe+6,y+47.5,oc,R,6.3);l(W,xe,y+63,xe+40,y+63);t(xe+6,y+61.5,dr,R,6.3);}
servo(909,702,'X21','R26','OC6 RD5','DIR6 RG14');servo(1032,702,'X22','R27','OC7 RD6','DIR7 RE1');
servo(658,824,'X24','R30','OC1 RF3','DIR1 RE4');servo(765,824,'X25','R31','OC2 RF2','DIR2 RE3');servo(872,824,'X26','R32','OC3 RD2','DIR3 RE2');servo(980,824,'X27','R33','OC4 RD3','DIR4 RG13');servo(1088,824,'X28','R34','OC5 RD4','DIR5 RG12');
servo(1176,976,'X35','R35','OC8 SS1 RD9','DIR8 RE0');

function i2c(x,nm,rows,left,vt){title(x+10,972,nm,'I2C');tbl(x,976,[left?22:26,left?26:22],14.5,rows);}
i2c(650,'X31',[['Конт','Цепь'],['1','GND'],['2','5V'],['3','SCL'],['4','SDA']],1);
w(650,998,630,998);gh(628,998,-1);w(650,1012,630,1012);ar(624,1012,'l');t(607,1015,'+5V',K,6.3);
i2c(715,'X32',[['Цепь','Конт'],['GND','1'],['5V','2'],['SCL','3'],['SDA','4']],0);
w(763,998,785,998);gh(785,998);w(763,1012,785,1012);ar(791,1012,'r');t(796,1010,'+5V',K,6.3);
i2c(922,'X33',[['Конт','Цепь'],['1','GND'],['2','3.3V'],['3','SCL'],['4','SDA']],1);
w(922,998,905,998);gh(903,998,-1);w(922,1012,905,1012);ar(899,1012,'l');t(878,1014,'+3.3V',K,6.3);
i2c(997,'X34',[['Цепь','Конт'],['GND','1'],['3.3V','2'],['SCL','3'],['SDA','4']],0);
w(1045,998,1068,998);gh(1068,998);w(1045,1012,1068,1012);ar(1074,1012,'r');t(1078,1010,'+5V',K,6.3);
nl(763,820,1027,'SCL2 RA2','m');nl(763,820,1041,'SDA2 RA3','m');nl(875,922,1027,'SCL3 RE6','m');nl(875,922,1041,'SDA3_RE7','m');
w(650,1027,636,1027,636,1053,768,1053,768,1041);w(650,1041,643,1041,643,1047,728,1047);
w(820,1027,825,1027,825,1085,895,1085);w(820,1041,830,1041,830,1066,875,1066,875,1027);
w(1045,1027,1055,1027,1055,1060,852,1060,852,1114,895,1114);w(1045,1041,1050,1041,1050,1054,908,1054,908,1048);
w(636,1053,636,1075,838,1075,838,1100,895,1100);w(643,1047,643,1068,845,1068,845,1128,895,1128);
dot(825,1075);dot(875,1066);dot(908,1048);
jm(895,1090,['J13','J14','J15','J16']);
w(930,1097,960,1097,960,1082,1130,1082,1130,1125);w(930,1111,965,1111,965,1090,1085,1090,1085,1110);w(930,1126,975,1126,975,1097,1023,1097,1023,1110);w(930,1140,967,1140,967,1105,985,1105,985,1110);
resv(985,1110,1127);resv(1023,1110,1127);resv(1085,1110,1127);resv(1130,1110,1127);
t(989,1117,'R36',K,6.3);t(989,1125,'2.2k',K,6.3);t(1027,1117,'R37',K,6.3);t(1027,1125,'2.2k',K,6.3);t(1089,1117,'R38',K,6.3);t(1089,1125,'2.2k',K,6.3);t(1134,1117,'R39',K,6.3);t(1134,1125,'2.2k',K,6.3);
w(985,1127,985,1140,1030,1140);w(1023,1127,1023,1140);ar(1036,1140,'r');t(1040,1140,'+5V',K,6.3);dot(1023,1140);
w(1085,1127,1085,1133,1150,1133);w(1130,1127,1130,1133);ar(1156,1133,'r');t(1153,1130,'+3.3V',K,6.3);dot(1130,1133);

document.getElementById('w').innerHTML='<svg xmlns="http://www.w3.org/2000/svg" width="2179" height="1603" viewBox="0 0 1568 1153.5" preserveAspectRatio="none">'+s+'</svg>';
</script>
</body></html>
